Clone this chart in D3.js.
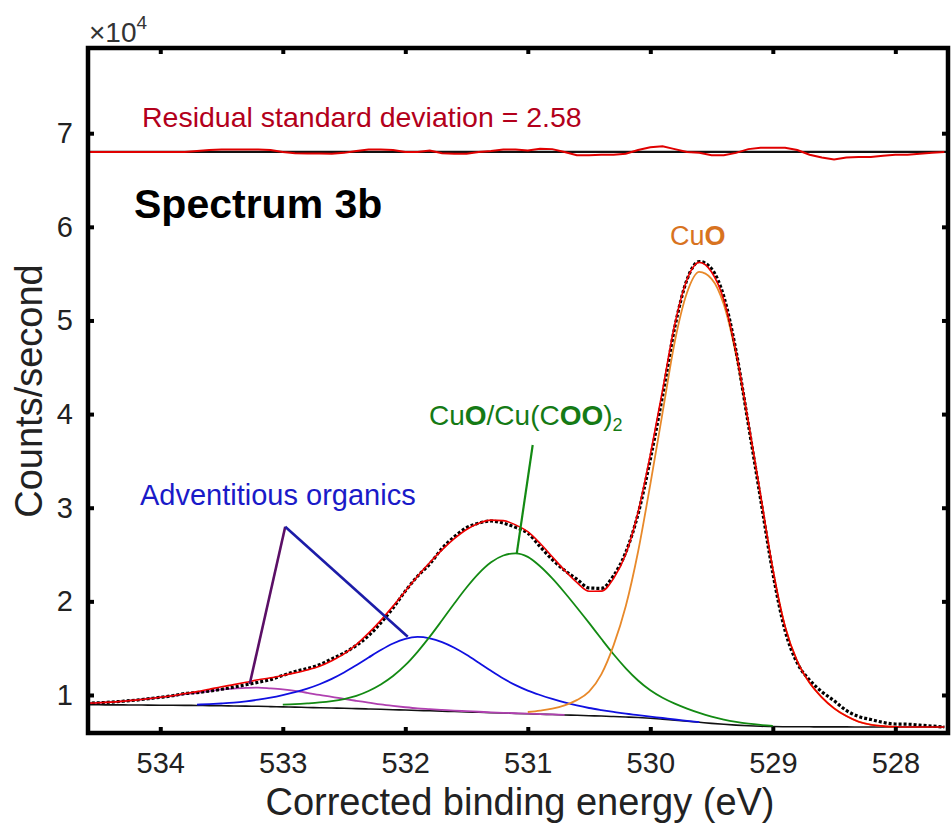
<!DOCTYPE html>
<html>
<head>
<meta charset="utf-8">
<script src="https://cdn.jsdelivr.net/npm/d3@7"></script>
<style>
  body { margin: 0; background: #fff; }
  svg { display: block; }
  text { font-family: "Liberation Sans", Arial, Helvetica, sans-serif; }
</style>
</head>
<body>
<svg id="chart" width="951" height="825"></svg>
<script>
// O 1s spectrum: binding energy grid (eV), intensities in units of 1e4 counts/s
const energy = [534.6,534.5,534.4,534.3,534.2,534.1,534.0,533.9,533.8,533.7,
  533.6,533.5,533.4,533.3,533.2,533.1,533.0,532.9,532.8,532.7,
  532.6,532.5,532.4,532.3,532.2,532.1,532.0,531.9,531.8,531.7,
  531.6,531.5,531.4,531.3,531.2,531.1,531.0,530.9,530.8,530.7,
  530.6,530.5,530.4,530.3,530.2,530.1,530.0,529.9,529.8,529.7,
  529.6,529.5,529.4,529.3,529.2,529.1,529.0,528.9,528.8,528.7,
  528.6,528.5,528.4,528.3,528.2,528.1,528.0,527.9,527.8,527.7,527.6];

const background = [.895,.895,.894,.894,.893,.892,.891,.890,.889,.888,
  .886,.885,.883,.881,.879,.876,.873,.870,.867,.864,
  .861,.858,.854,.851,.847,.843,.839,.835,.831,.827,
  .823,.819,.815,.811,.807,.803,.799,.795,.791,.787,
  .783,.779,.775,.770,.765,.759,.751,.741,.730,.719,
  .708,.697,.687,.678,.671,.666,.663,.661,.660,.660,
  .659,.659,.659,.658,.658,.658,.658,.658,.658,.658,.658];

// adventitious organics, high-BE component
const organicsHigh = [.913,.917,.924,.934,.945,.960,.975,.990,1.009,1.024,
  1.042,1.059,1.069,1.075,1.079,1.070,1.059,1.044,1.023,1.000,
  .981,.958,.938,.919,.899,.883,.869,.857,.849,.841,
  .833,.827,.821,.815,.810,.805,.801,.796,.792,.788,
  null,null,null,null,null,null,null,null,null,null,
  null,null,null,null,null,null,null,null,null,null,
  null,null,null,null,null,null,null,null,null,null,null];

// adventitious organics, main component
const organicsMain = [null,null,null,null,null,null,null,null,null,.897,
  .902,.909,.918,.932,.950,.972,.999,1.030,1.068,1.115,
  1.172,1.240,1.318,1.400,1.480,1.550,1.600,1.620,1.605,1.565,
  1.505,1.430,1.345,1.258,1.176,1.105,1.047,1.000,.958,.920,
  .888,.861,.839,.819,.800,.785,.769,.754,.738,.724,
  .710,null,null,null,null,null,null,null,null,null,
  null,null,null,null,null,null,null,null,null,null,null];

// CuO / Cu(COO)2 component
const carboxylate = [null,null,null,null,null,null,null,null,null,null,
  null,null,null,null,null,null,.897,.902,.910,.920,
  .935,.957,.991,1.043,1.112,1.202,1.318,1.461,1.623,1.798,
  1.977,2.148,2.299,2.417,2.490,2.513,2.475,2.375,2.245,2.095,
  1.935,1.770,1.600,1.435,1.285,1.155,1.050,.970,.907,.854,
  .808,.769,.737,.712,.693,.680,.671,null,null,null,
  null,null,null,null,null,null,null,null,null,null,null];

// CuO lattice oxygen component
const cuoLattice = [null,null,null,null,null,null,null,null,null,null,
  null,null,null,null,null,null,null,null,null,null,
  null,null,null,null,null,null,null,null,null,null,
  null,null,null,null,null,null,.818,.834,.855,.890,
  .945,1.035,1.220,1.530,1.950,2.530,3.250,4.015,4.775,5.298,
  5.518,5.445,5.170,4.630,3.900,3.124,2.340,1.730,1.360,1.130,
  .975,.858,.775,.715,.683,.667,.660,null,null,null,null];

// fitted envelope
const envelope = [.913,.917,.924,.934,.945,.960,.975,.992,1.015,1.036,
  1.062,1.088,1.111,1.136,1.163,1.184,1.209,1.236,1.267,1.307,
  1.366,1.439,1.539,1.660,1.797,1.949,2.109,2.268,2.415,2.550,
  2.669,2.767,2.835,2.868,2.862,2.817,2.744,2.620,2.476,2.331,
  2.202,2.108,2.109,2.244,2.505,2.952,3.567,4.257,4.960,5.438,
  5.620,5.517,5.220,4.664,3.922,3.138,2.348,1.733,1.360,1.130,
  .975,.858,.775,.715,.683,.667,.660,.658,.658,.658,.658];

// measured counts
const measured = [.913,.917,.924,.934,.945,.960,.975,.992,1.015,1.026,
  1.042,1.061,1.084,1.109,1.136,1.164,1.209,1.251,1.283,1.323,
  1.386,1.449,1.529,1.633,1.770,1.929,2.109,2.268,2.400,2.565,
  2.689,2.787,2.835,2.858,2.835,2.790,2.729,2.585,2.446,2.331,
  2.237,2.143,2.139,2.274,2.525,2.932,3.517,4.197,4.930,5.438,
  5.630,5.552,5.255,4.674,3.892,3.093,2.303,1.688,1.340,1.160,
  1.035,.938,.835,.770,.738,.707,.690,.688,.678,.668,.658];

// fit residual, drawn about a fixed offset
const residualOffset = 6.8;
const residual = [0,0,0,0,0,0,0,0,0,.01,
  .02,.027,.027,.027,.027,.02,0,-.015,-.016,-.016,
  -.02,-.01,.01,.027,.027,.02,0,0,.015,-.015,
  -.02,-.02,0,.01,.027,.027,.015,.035,.03,0,
  -.035,-.035,-.03,-.03,-.02,.02,.05,.06,.03,0,
  -.01,-.035,-.035,-.01,.03,.045,.045,.045,.02,-.03,
  -.06,-.08,-.06,-.055,-.055,-.04,-.03,-.03,-.02,-.01,0];

// annotation leader anchors [energy, intensity]
const organicsApex = [532.98, 2.797];
const organicsHighTip = [533.27, 1.117];
const organicsMainTip = [531.98, 1.622];
const carboxylateLeader = [[530.96, 3.67], [531.09, 2.513]];

const xTicks = [534, 533, 532, 531, 530, 529, 528];
const yTicks = [1, 2, 3, 4, 5, 6, 7];

const W = 951, H = 825;
const margin = { left: 88, top: 48, right: 3, bottom: 92 };
const iw = W - margin.left - margin.right;
const ih = H - margin.top - margin.bottom;

const svg = d3.select("#chart");
const g = svg.append("g").attr("transform", `translate(${margin.left},${margin.top})`);

const x = d3.scaleLinear().domain([534.59, 527.57]).range([0, iw]);
const y = d3.scaleLinear().domain([0.594, 7.91]).range([ih, 0]);

g.append("clipPath").attr("id", "plot-clip")
  .append("rect").attr("width", iw).attr("height", ih);

const plot = g.append("g").attr("clip-path", "url(#plot-clip)");

function lineOf(values, curve) {
  return d3.line()
    .defined(i => values[i] !== null)
    .x(i => x(energy[i]))
    .y(i => y(values[i]))
    .curve(curve || d3.curveMonotoneX);
}
const idx = d3.range(energy.length);

function drawSeries(values, color, width, extra) {
  const p = plot.append("path")
    .attr("d", lineOf(values)(idx))
    .attr("fill", "none")
    .attr("stroke", color)
    .attr("stroke-width", width)
    .attr("stroke-linejoin", "round");
  if (extra) extra(p);
  return p;
}

// residual panel
plot.append("line")
  .attr("x1", 0).attr("x2", iw)
  .attr("y1", y(residualOffset)).attr("y2", y(residualOffset))
  .attr("stroke", "#111").attr("stroke-width", 2.2);
plot.append("path")
  .attr("d", d3.line().x(i => x(energy[i])).y(i => y(residualOffset + residual[i])).curve(d3.curveLinear)(idx))
  .attr("fill", "none").attr("stroke", "#e00000").attr("stroke-width", 2);

// background and components
drawSeries(background, "#111", 1.6);
drawSeries(organicsHigh, "#b040b0", 1.8);
drawSeries(organicsMain, "#1010e0", 1.8);
drawSeries(carboxylate, "#138a13", 1.8);
drawSeries(cuoLattice, "#e8892a", 1.8);

// measured data (dotted black) under the red envelope
drawSeries(measured, "#000", 3.2, p => p.attr("stroke-dasharray", "3 2"));
drawSeries(envelope, "#ee0000", 1.6);

// leader lines
const lp = ([e, v]) => [x(e), y(v)];
g.append("line")
  .attr("x1", lp(organicsHighTip)[0]).attr("y1", lp(organicsHighTip)[1])
  .attr("x2", lp(organicsApex)[0]).attr("y2", lp(organicsApex)[1])
  .attr("stroke", "#5b0f66").attr("stroke-width", 2.6);
g.append("line")
  .attr("x1", lp(organicsApex)[0]).attr("y1", lp(organicsApex)[1])
  .attr("x2", lp(organicsMainTip)[0]).attr("y2", lp(organicsMainTip)[1])
  .attr("stroke", "#1c1ca8").attr("stroke-width", 2.6);
g.append("line")
  .attr("x1", lp(carboxylateLeader[0])[0]).attr("y1", lp(carboxylateLeader[0])[1])
  .attr("x2", lp(carboxylateLeader[1])[0]).attr("y2", lp(carboxylateLeader[1])[1])
  .attr("stroke", "#138a13").attr("stroke-width", 2.2);

// axes: ticks point inward on all four sides
const tickLen = 6;
const axB = g.append("g").attr("transform", `translate(0,${ih})`)
  .call(d3.axisBottom(x).tickValues(xTicks).tickFormat(d3.format("d"))
    .tickSizeInner(-tickLen).tickSizeOuter(0).tickPadding(19));
const axL = g.append("g")
  .call(d3.axisLeft(y).tickValues(yTicks).tickFormat(d3.format("d"))
    .tickSizeInner(-tickLen).tickSizeOuter(0).tickPadding(15));
const axT = g.append("g")
  .call(d3.axisTop(x).tickValues(xTicks).tickFormat("")
    .tickSizeInner(-tickLen).tickSizeOuter(0));
const axR = g.append("g").attr("transform", `translate(${iw},0)`)
  .call(d3.axisRight(y).tickValues(yTicks).tickFormat("")
    .tickSizeInner(-tickLen).tickSizeOuter(0));

[axB, axL, axT, axR].forEach(a => {
  a.select(".domain").remove();
  a.selectAll(".tick line").attr("stroke", "#000").attr("stroke-width", 4);
  a.selectAll(".tick text").attr("fill", "#222")
    .style("font-size", "29px");
});

g.append("rect")
  .attr("x", 0).attr("y", 0).attr("width", iw).attr("height", ih)
  .attr("fill", "none").attr("stroke", "#000").attr("stroke-width", 4.5);

// exponent marker
const expo = svg.append("text").attr("x", 89).attr("y", 42)
  .attr("fill", "#333").style("font-size", "28px");
expo.append("tspan").text("×10");
expo.append("tspan").attr("dy", -13).style("font-size", "19px").text("4");

// axis titles
svg.append("text")
  .attr("x", 520).attr("y", 815).attr("text-anchor", "middle")
  .attr("fill", "#222").style("font-size", "38px")
  .text("Corrected binding energy (eV)");
svg.append("text")
  .attr("transform", "translate(42,391) rotate(-90)")
  .attr("text-anchor", "middle")
  .attr("fill", "#222").style("font-size", "38px")
  .text("Counts/second");

// panel labels
svg.append("text").attr("x", 142).attr("y", 127)
  .attr("fill", "#b3001b").style("font-size", "28.5px")
  .text("Residual standard deviation = 2.58");

svg.append("text").attr("x", 134).attr("y", 218)
  .attr("fill", "#000").style("font-size", "41px").style("font-weight", "bold")
  .text("Spectrum 3b");

svg.append("text").attr("x", 140).attr("y", 505)
  .attr("fill", "#1a1ac8").style("font-size", "29px")
  .text("Adventitious organics");

const cuo = svg.append("text").attr("x", 670).attr("y", 245)
  .attr("fill", "#d8731f").style("font-size", "27px");
cuo.append("tspan").text("Cu");
cuo.append("tspan").style("font-weight", "bold").text("O");

const carb = svg.append("text").attr("x", 429).attr("y", 425)
  .attr("fill", "#157a15").style("font-size", "28px");
carb.append("tspan").text("Cu");
carb.append("tspan").style("font-weight", "bold").text("O");
carb.append("tspan").text("/Cu(C");
carb.append("tspan").style("font-weight", "bold").text("OO");
carb.append("tspan").text(")");
carb.append("tspan").attr("dy", 6).style("font-size", "18px").text("2");
</script>
</body>
</html>
